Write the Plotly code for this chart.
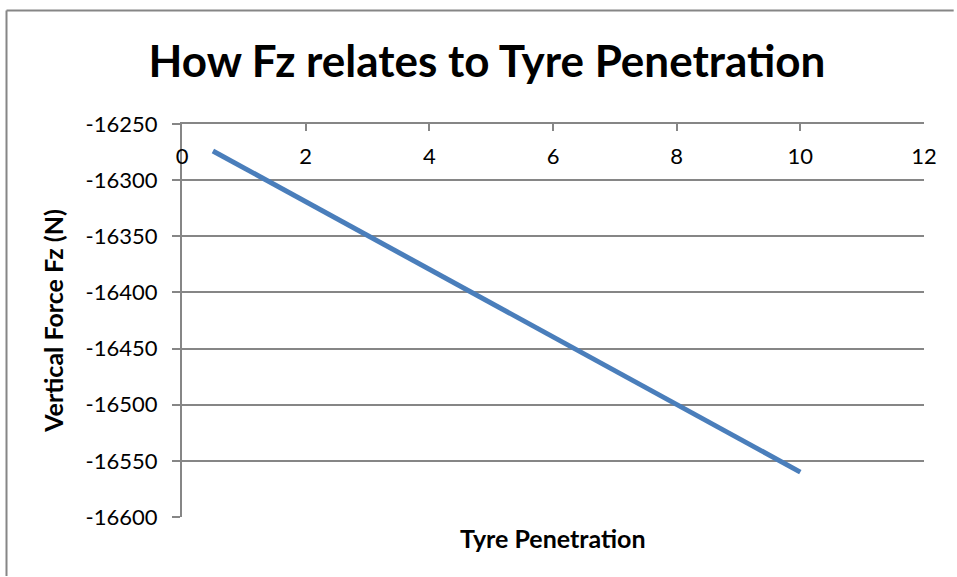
import plotly.graph_objects as go

# Tyre penetration vs vertical force
penetration = [0.5, 1, 2, 3, 4, 5, 6, 7, 8, 9, 10]
fz = [-16274, -16289, -16319, -16349, -16379, -16410, -16440, -16470, -16500, -16530, -16560]

x_ticks = [0, 2, 4, 6, 8, 10, 12]
y_ticks = [-16250, -16300, -16350, -16400, -16450, -16500, -16550, -16600]
y_labels = [str(v) for v in y_ticks]

grey = '#868686'
font_name = 'Lato'

fig = go.Figure()

fig.add_trace(go.Scatter(
    x=penetration,
    y=fz,
    mode='lines',
    line=dict(color='#4a7ebb', width=5),
    showlegend=False
))

# chart-area border, only the left and top edges fall inside the picture
border_x = (6.5 - 182) / 742
border_y = (517 - 10.5) / 393

fig.update_layout(
    width=957,
    height=577,
    margin=dict(l=182, r=33, t=124, b=60),
    plot_bgcolor='white',
    paper_bgcolor='white',
    font=dict(family=font_name, size=22, color='black'),
    title=dict(
        text='<b>How Fz relates to Tyre Penetration</b>',
        x=487 / 957,
        xanchor='center',
        y=1 - 62 / 577,
        yanchor='middle',
        font=dict(size=44, family=font_name)
    ),
    xaxis=dict(
        range=[0, 12],
        tickvals=x_ticks,
        showticklabels=False,
        side='top',
        ticks='inside',
        ticklen=7,
        tickcolor=grey,
        tickwidth=1.5,
        showline=True,
        linecolor=grey,
        linewidth=2,
        showgrid=False,
        zeroline=False
    ),
    # label-only axis so the 0 and 12 labels sit just under the top line
    xaxis2=dict(
        range=[0, 12],
        tickvals=x_ticks,
        overlaying='x',
        anchor='free',
        position=(517 - 168) / 393,
        side='top',
        ticks='',
        showline=False,
        showgrid=False,
        zeroline=False
    ),
    yaxis=dict(
        range=[-16600, -16250],
        tickvals=y_ticks,
        ticktext=y_labels,
        ticks='outside',
        ticklen=8,
        tickcolor=grey,
        tickwidth=1.5,
        showline=True,
        linecolor=grey,
        linewidth=2,
        showgrid=True,
        gridcolor=grey,
        gridwidth=1.5,
        zeroline=False,
        ticklabelstandoff=10,
        title=dict(
            text='<b>Vertical Force Fz (N)</b>',
            font=dict(size=25, family=font_name),
            standoff=15
        )
    ),
    shapes=[
        dict(type='line', xref='paper', yref='paper',
             x0=border_x, x1=border_x, y0=-0.15, y1=border_y,
             line=dict(color=grey, width=2)),
        dict(type='line', xref='paper', yref='paper',
             x0=border_x, x1=1.04, y0=border_y, y1=border_y,
             line=dict(color=grey, width=2)),
    ],
    annotations=[dict(
        text='<b>Tyre Penetration</b>',
        xref='paper', yref='paper',
        x=0.5, y=-21 / 393,
        xanchor='center', yanchor='middle',
        showarrow=False,
        font=dict(size=25, family=font_name)
    )]
)

# invisible twin on the label axis so it gets drawn
fig.add_trace(go.Scatter(
    x=penetration, y=fz, xaxis='x2', mode='lines',
    line=dict(width=0), hoverinfo='skip', showlegend=False
))

# drop the default body margin so the figure fills the window without scrollbars
fig.write_html('out.html',
               config={'displayModeBar': False},
               post_script="document.body.style.margin='0';document.body.style.overflow='hidden';")
